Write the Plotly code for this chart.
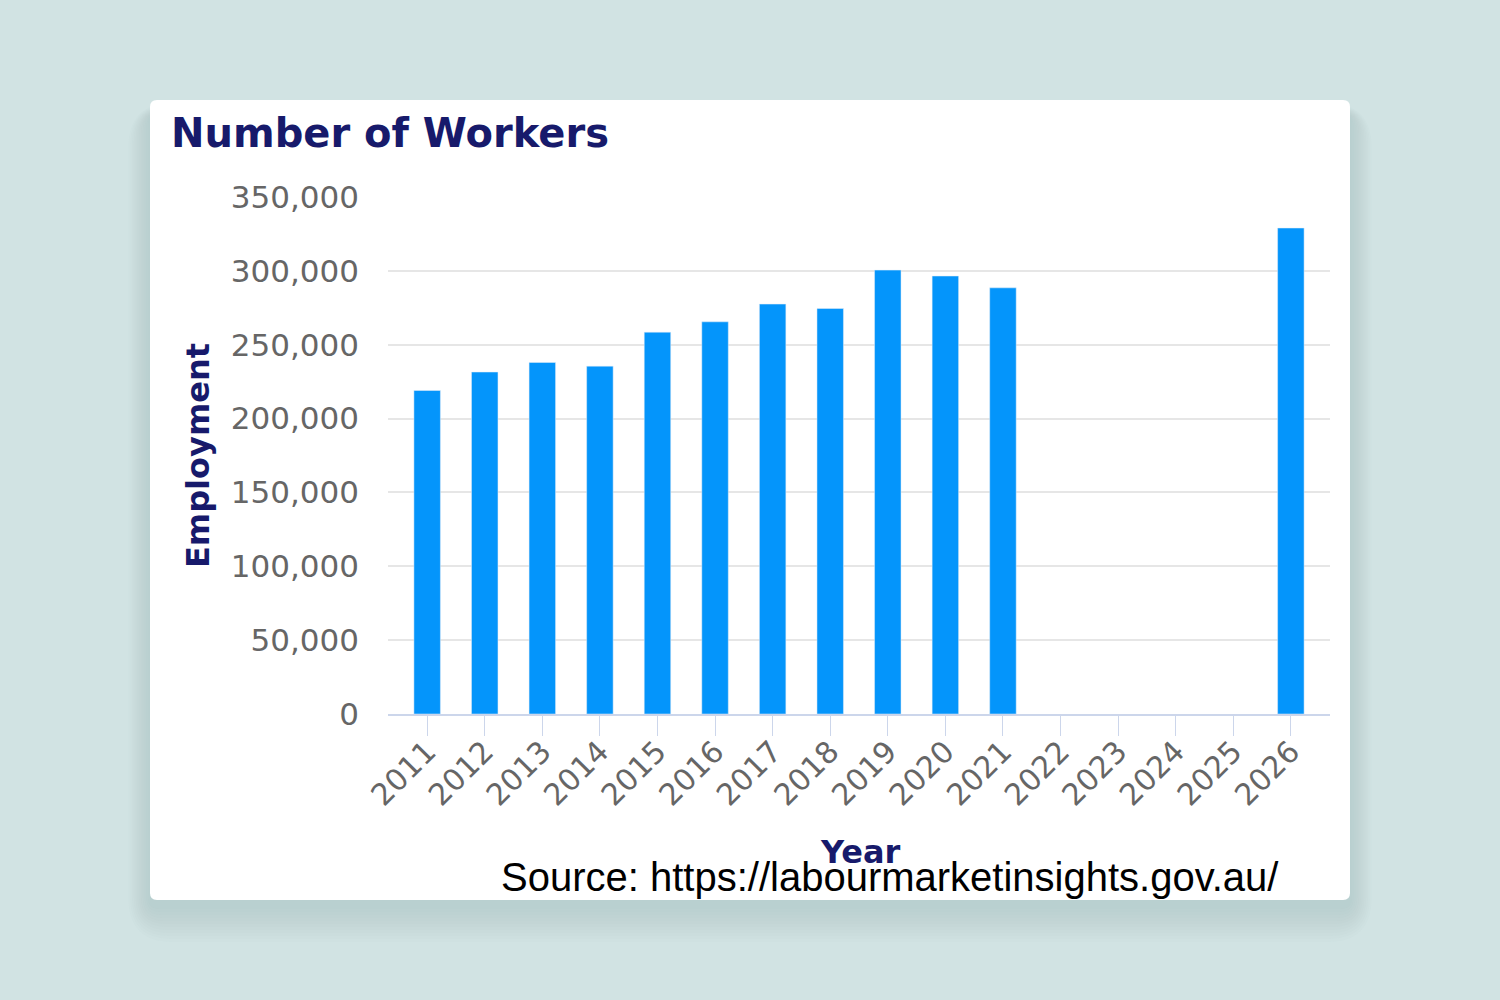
import plotly.graph_objects as go

# data
years = [str(y) for y in range(2011, 2027)]
workers = [219000, 231500, 238000, 235500, 258500, 265500, 277500, 274500,
           300500, 296500, 288500, None, None, None, None, 329000]
y_ticks = [0, 50000, 100000, 150000, 200000, 250000, 300000, 350000]

W, H = 1500, 1000
L, R, T, B = 388, 170, 197, 286
PW, PH = W - L - R, H - T - B

NAVY = "#171a6b"
BAR = "#0495fb"
BG = "#d1e3e3"
FONT = "DejaVu Sans"


def px(x):
    return (x - L) / PW


def py(y):
    return (H - B - y) / PH


def rounded_rect(x0, y0, x1, y1, r):
    # path in paper units, corners given in pixels
    rx, ry = r / PW, r / PH
    a, b, c, d = px(x0), py(y1), px(x1), py(y0)
    return (f"M {a+rx},{b} L {c-rx},{b} Q {c},{b} {c},{b+ry} "
            f"L {c},{d-ry} Q {c},{d} {c-rx},{d} L {a+rx},{d} "
            f"Q {a},{d} {a},{d-ry} L {a},{b+ry} Q {a},{b} {a+rx},{b} Z")


fig = go.Figure()
fig.add_trace(go.Bar(x=years, y=workers, marker_color=BAR, width=0.46,
                     hoverinfo="x+y"))

shapes = []
# soft shadow, mostly below the card
for grow in range(36, 0, -3):
    shapes.append(dict(type="path", xref="paper", yref="paper", layer="below",
                       path=rounded_rect(150 - grow * 0.6, 100 - grow * 0.3 + 14,
                                         1350 + grow * 0.6, 900 + grow + 6, 8 + grow),
                       fillcolor="#6f9696", opacity=0.025, line_width=0))
# white card
shapes.append(dict(type="path", xref="paper", yref="paper", layer="below",
                   path=rounded_rect(150, 100, 1350, 900, 7),
                   fillcolor="white", line_width=0))
fig.update_layout(shapes=shapes)

annotations = [
    dict(text="<b>Number of Workers</b>", x=px(169), y=py(133), xanchor="left",
         yanchor="middle", font=dict(family=FONT, size=40, color=NAVY)),
    dict(text="<b>Employment</b>", x=px(198), y=py(456), textangle=-90,
         xanchor="center", yanchor="middle", font=dict(family=FONT, size=32, color=NAVY)),
    dict(text="<b>Year</b>", x=px(860), y=py(852), xanchor="center",
         yanchor="middle", font=dict(family=FONT, size=32, color=NAVY)),
    dict(text="Source: https://labourmarketinsights.gov.au/", x=px(890), y=py(877),
         xanchor="center", yanchor="middle",
         font=dict(family="Liberation Sans Narrow, Arial Narrow, Liberation Sans",
                   size=40, color="black")),
]
for a in annotations:
    a.update(xref="paper", yref="paper", showarrow=False)
fig.update_layout(annotations=annotations)

fig.update_xaxes(type="category", range=[-0.68, 15.68], tickangle=-45,
                 ticks="outside", ticklen=20, tickwidth=1, tickcolor="#ccd6eb",
                 showline=True, linecolor="#ccd6eb", linewidth=2, showgrid=False,
                 ticklabelstandoff=-14,
                 tickfont=dict(family=FONT, size=30, color="#666666"))
fig.update_yaxes(range=[0, 350000], tickvals=y_ticks, tickformat=",",
                 showgrid=True, gridcolor="#e6e6e6", gridwidth=2, zeroline=False,
                 ticklabelstandoff=28,
                 tickfont=dict(family=FONT, size=31, color="#666666"))

fig.update_layout(width=W, height=H, margin=dict(l=L, r=R, t=T, b=B),
                  paper_bgcolor=BG, plot_bgcolor="white",
                  showlegend=False, bargap=0.55)

# drop the default page margin so the figure fills the window
fig.write_html("out.html", config={"displayModeBar": False}, post_script=(
    "document.body.style.margin='0';"
    f"document.body.style.background='{BG}';"
    "document.documentElement.style.overflow='hidden';"))
